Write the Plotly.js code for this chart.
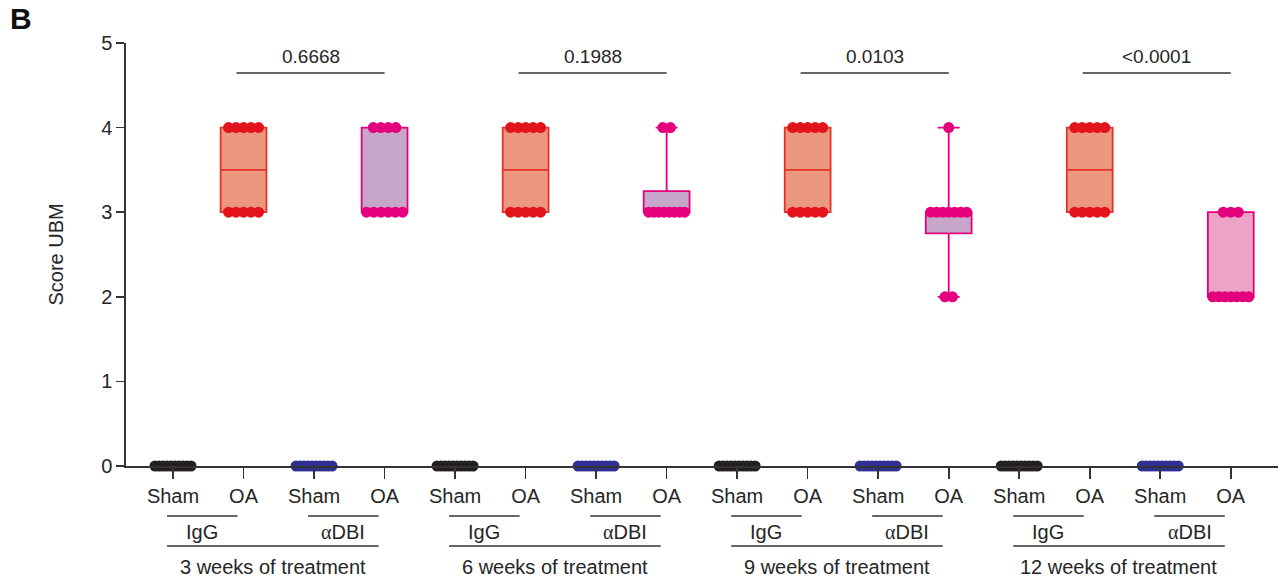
<!DOCTYPE html>
<html>
<head>
<meta charset="utf-8">
<script src="https://cdn.plot.ly/plotly-3.0.1.min.js"></script>
<style>html,body{margin:0;padding:0;background:#fff;}#chart{width:1285px;height:580px;}</style>
</head>
<body>
<div id="chart"></div>
<script>
// ---- data ----
const weekLabels = ['3 weeks of treatment', '6 weeks of treatment', '9 weeks of treatment', '12 weeks of treatment'];
const groupLabels = ['Sham', 'OA', 'Sham', 'OA'];
const treatmentLabels = ['IgG', '<span style="font-family:Liberation Serif, Times New Roman, serif">\u03b1</span>DBI'];
const pValues = ['0.6668', '0.1988', '0.0103', '<0.0001'];

const shamIgG = [
  [0,0,0,0,0,0,0,0,0,0],
  [0,0,0,0,0,0,0,0,0,0],
  [0,0,0,0,0,0,0,0,0,0],
  [0,0,0,0,0,0,0,0,0,0]
];
const oaIgG = [
  [4,4,4,4,4,3,3,3,3,3],
  [4,4,4,4,4,3,3,3,3,3],
  [4,4,4,4,4,3,3,3,3,3],
  [4,4,4,4,4,3,3,3,3,3]
];
const shamDBI = [
  [0,0,0,0,0,0,0,0,0,0],
  [0,0,0,0,0,0,0,0,0,0],
  [0,0,0,0,0,0,0,0,0,0],
  [0,0,0,0,0,0,0,0,0,0]
];
const oaDBI = [
  [4,4,4,4,3,3,3,3,3,3],
  [4,4,3,3,3,3,3,3,3,3],
  [4,3,3,3,3,3,3,3,2,2],
  [3,3,3,2,2,2,2,2,2,2]
];

// ---- styles ----
const FONT = 'Liberation Sans, Arial, Helvetica, sans-serif';
const TXT = '#262626';
const dotColors = {shamIgG: '#231f20', oaIgG: '#e3131b', shamDBI: '#2e3192', oaDBI: '#e4007c'};
const boxFillIgG = '#eb987f';
const boxLineIgG = '#e6322a';
const boxFillDBI = ['#c6a6c9', '#c6a6c9', '#c6a6c9', '#eda3c5'];
const boxLineDBI = '#e5007e';

const plotL = 126, plotR = 7, plotT = 43, plotB = 114;
const W = 1285, H = 580;
const xRange = [-0.667, 15.67];
const pxPerUnit = (W - plotL - plotR) / (xRange[1] - xRange[0]);
const plotH = H - plotT - plotB;

// GraphPad style quantile (n+1 method)
function quant(sorted, p) {
  const n = sorted.length;
  let pos = p * (n + 1);
  if (pos < 1) pos = 1;
  if (pos > n) pos = n;
  const lo = Math.floor(pos), hi = Math.ceil(pos);
  const f = pos - lo;
  return sorted[lo - 1] + f * (sorted[hi - 1] - sorted[lo - 1]);
}
function stats(vals) {
  const s = vals.slice().sort((a, b) => a - b);
  const n = s.length;
  const med = n % 2 ? s[(n - 1) / 2] : (s[n / 2 - 1] + s[n / 2]) / 2;
  return {min: s[0], max: s[n - 1], q1: quant(s, 0.25), q3: quant(s, 0.75), med: med};
}
// horizontal row spread of equal values
function spread(vals, center) {
  const counts = {};
  vals.forEach(v => { counts[v] = (counts[v] || 0) + 1; });
  const idx = {};
  return vals.map(v => {
    const k = counts[v];
    const i = idx[v] = (idx[v] === undefined ? 0 : idx[v] + 1);
    const sp = k > 1 ? Math.min(7.5, 36 / (k - 1)) : 0;
    const off = (i - (k - 1) / 2) * sp;
    return center + off / pxPerUnit;
  });
}

const traces = [];
const series = [
  {data: shamIgG, key: 'shamIgG', slot: 0, box: false},
  {data: oaIgG, key: 'oaIgG', slot: 1, box: true},
  {data: shamDBI, key: 'shamDBI', slot: 2, box: false},
  {data: oaDBI, key: 'oaDBI', slot: 3, box: true}
];
// boxes first
series.forEach(s => {
  if (!s.box) return;
  s.data.forEach((vals, w) => {
    const st = stats(vals);
    const pos = w * 4 + s.slot;
    const isIgG = s.key === 'oaIgG';
    traces.push({
      type: 'box', x: [pos], q1: [st.q1], median: [st.med], q3: [st.q3],
      lowerfence: [st.min], upperfence: [st.max], width: 0.65,
      boxpoints: false, whiskerwidth: 0.48,
      fillcolor: isIgG ? boxFillIgG : boxFillDBI[w],
      line: {color: isIgG ? boxLineIgG : boxLineDBI, width: 1.8},
      showlegend: false, hoverinfo: 'skip'
    });
  });
});
// dots
series.forEach(s => {
  s.data.forEach((vals, w) => {
    const pos = w * 4 + s.slot;
    traces.push({
      type: 'scatter', mode: 'markers', x: spread(vals, pos), y: vals,
      marker: {color: dotColors[s.key], size: 11, line: {width: 0}},
      cliponaxis: false, showlegend: false, hoverinfo: 'skip'
    });
  });
});

const tickvals = [], ticktext = [];
for (let w = 0; w < weekLabels.length; w++) {
  groupLabels.forEach((g, j) => { tickvals.push(w * 4 + j); ticktext.push(g); });
}

const pyPaper = py => (H - plotB - py) / plotH;
const pyData = py => (H - plotB - py) / plotH * 5;

const shapes = [], annotations = [];
const LINE = {color: '#333333', width: 1.6};
const sh = 0.085;
for (let w = 0; w < weekLabels.length; w++) {
  const b = w * 4;
  shapes.push({type: 'line', xref: 'x', yref: 'paper', x0: b - sh, x1: b + 1 - sh, y0: pyPaper(516), y1: pyPaper(516), line: LINE});
  shapes.push({type: 'line', xref: 'x', yref: 'paper', x0: b + 2 - sh, x1: b + 3 - sh, y0: pyPaper(516), y1: pyPaper(516), line: LINE});
  shapes.push({type: 'line', xref: 'x', yref: 'paper', x0: b - sh, x1: b + 3 - sh, y0: pyPaper(546), y1: pyPaper(546), line: LINE});
  annotations.push({xref: 'x', yref: 'paper', x: b + 0.5 - sh, y: pyPaper(532), text: treatmentLabels[0], showarrow: false, xanchor: 'center', yanchor: 'middle', font: {family: FONT, size: 20, color: TXT}});
  annotations.push({xref: 'x', yref: 'paper', x: b + 2.5 - sh, y: pyPaper(532), text: treatmentLabels[1], showarrow: false, xanchor: 'center', yanchor: 'middle', font: {family: FONT, size: 20, color: TXT}});
  annotations.push({xref: 'x', yref: 'paper', x: b + 1.5 - sh, y: pyPaper(567), text: weekLabels[w], showarrow: false, xanchor: 'center', yanchor: 'middle', font: {family: FONT, size: 20, color: TXT}});
  shapes.push({type: 'line', xref: 'x', yref: 'y', x0: b + 1 - 0.1, x1: b + 3, y0: pyData(73), y1: pyData(73), line: LINE});
  annotations.push({xref: 'x', yref: 'y', x: b + 2 - 0.05, y: pyData(56), text: pValues[w], showarrow: false, xanchor: 'center', yanchor: 'middle', font: {family: FONT, size: 19, color: TXT}});
}
annotations.push({xref: 'paper', yref: 'paper', x: (8 - plotL) / (W - plotL - plotR), y: pyPaper(19), text: '<b>B</b>', showarrow: false, xanchor: 'left', yanchor: 'middle', font: {family: FONT, size: 30, color: '#111'}});
annotations.push({xref: 'paper', yref: 'paper', x: (55 - plotL) / (W - plotL - plotR), y: 0.5, text: 'Score UBM', textangle: -90, showarrow: false, xanchor: 'center', yanchor: 'middle', font: {family: FONT, size: 20, color: TXT}});

const layout = {
  width: W, height: H,
  margin: {l: plotL, r: plotR, t: plotT, b: plotB, pad: 0},
  paper_bgcolor: '#fff', plot_bgcolor: '#fff',
  showlegend: false,
  boxmode: 'overlay',
  xaxis: {
    range: xRange, showgrid: false, zeroline: false,
    showline: true, linecolor: '#333', linewidth: 1.6,
    ticks: 'outside', ticklen: 11, tickwidth: 1.6, tickcolor: '#333',
    tickvals: tickvals, ticktext: ticktext,
    tickfont: {family: FONT, size: 20, color: TXT}, fixedrange: true
  },
  yaxis: {
    range: [0, 5], showgrid: false, zeroline: false,
    showline: true, linecolor: '#333', linewidth: 1.6,
    ticks: 'outside', ticklen: 8, tickwidth: 1.6, tickcolor: '#333',
    tickvals: [0, 1, 2, 3, 4, 5],
    tickfont: {family: FONT, size: 20, color: TXT}, fixedrange: true
  },
  shapes: shapes, annotations: annotations
};

Plotly.newPlot('chart', traces, layout, {staticPlot: true, displayModeBar: false});
</script>
</body>
</html>
